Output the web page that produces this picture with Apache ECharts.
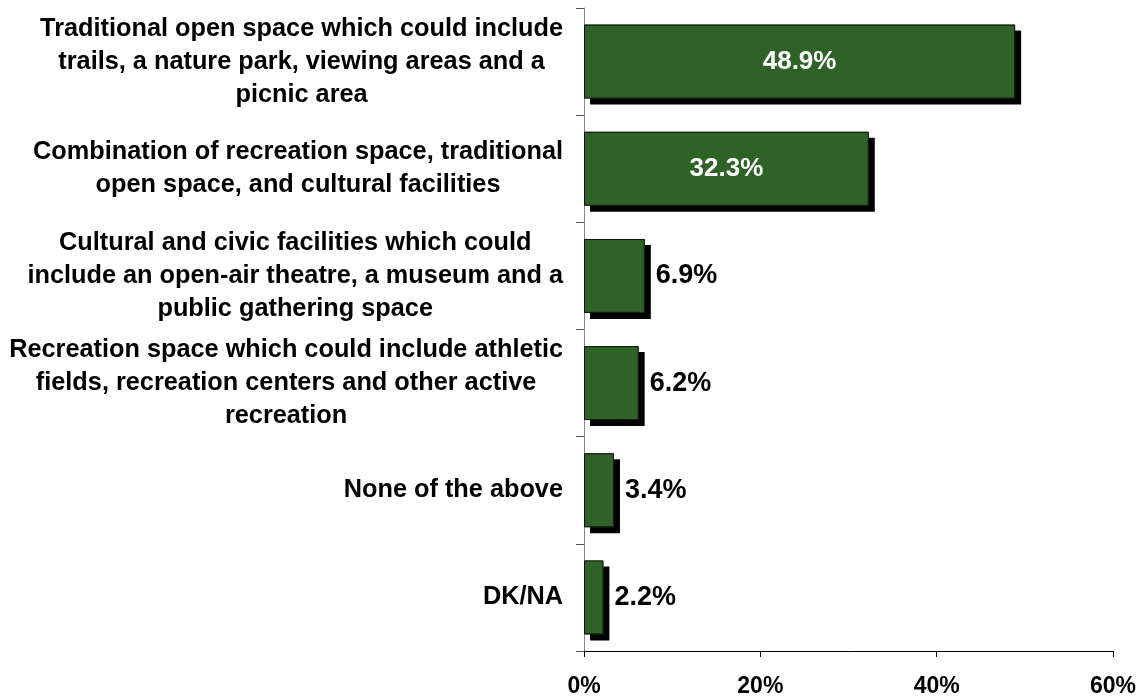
<!DOCTYPE html>
<html>
<head>
<meta charset="utf-8">
<script src="https://cdn.jsdelivr.net/npm/echarts@6/dist/echarts.min.js"></script>
<style>
html,body{margin:0;padding:0;background:#fff;}
#chart{width:1142px;height:698px;}
</style>
</head>
<body>
<div id="chart"></div>
<script>
var categories = [
  "Traditional open space which could include\ntrails, a nature park, viewing areas and a\npicnic area",
  "Combination of recreation space, traditional\nopen space, and cultural facilities",
  "Cultural and civic facilities which could\ninclude an open-air theatre, a museum and a\npublic gathering space",
  "Recreation space which could include athletic\nfields, recreation centers and other active\nrecreation",
  "None of the above",
  "DK/NA"
];
var values = [48.9, 32.3, 6.9, 6.2, 3.4, 2.2];
var xTicks = { min: 0, max: 60, interval: 20, suffix: "%" };

var FONT = '"Liberation Sans", Arial, sans-serif';
var GREEN = '#2e6226';

var seriesData = values.map(function (v) {
  var inside = v > 20;
  return {
    value: v,
    label: inside ? {
      position: 'inside', color: '#ffffff', fontSize: 26, fontWeight: 'bold', fontFamily: FONT
    } : {
      position: 'right', distance: 11, color: '#000000', fontSize: 27, fontWeight: 'bold', fontFamily: FONT
    }
  };
});

var chart = echarts.init(document.getElementById('chart'), null, { renderer: 'canvas' });
chart.setOption({
  animation: false,
  backgroundColor: '#ffffff',
  grid: { left: 584, right: 29, top: 8, bottom: 46, containLabel: false },
  xAxis: {
    type: 'value',
    min: xTicks.min, max: xTicks.max, interval: xTicks.interval,
    splitLine: { show: false },
    axisLine: { show: true, lineStyle: { color: '#000', width: 1 } },
    axisTick: { show: true, length: 6, lineStyle: { color: '#000' } },
    axisLabel: {
      formatter: function (v) { return v + xTicks.suffix; },
      fontSize: 23, fontWeight: 'bold', color: '#000', fontFamily: FONT, margin: 24
    }
  },
  yAxis: {
    type: 'category',
    inverse: true,
    data: categories,
    axisLine: { show: true, lineStyle: { color: '#888888', width: 1 } },
    axisTick: { show: true, length: 8, lineStyle: { color: '#555' } },
    axisLabel: {
      margin: 21,
      fontSize: 25.3, fontWeight: 'bold', color: '#000', fontFamily: FONT,
      formatter: function (v) {
        return v.split('\n').map(function (l) { return '{c|' + l + '}'; }).join('\n');
      },
      rich: {
        c: { align: 'center', fontSize: 25.3, fontWeight: 'bold', color: '#000', fontFamily: FONT, lineHeight: 33 }
      }
    }
  },
  series: [{
    type: 'bar',
    data: seriesData,
    barWidth: '69%',
    barGap: '-100%',
    z: 2,
    itemStyle: {
      color: GREEN,
      borderWidth: 0,
      shadowColor: '#000',
      shadowBlur: 0,
      shadowOffsetX: 6,
      shadowOffsetY: 6
    },
    label: {
      show: true,
      formatter: function (p) { return p.value.toFixed(1) + '%'; }
    }
  }, {
    type: 'bar',
    data: values,
    barWidth: '69%',
    barGap: '-100%',
    z: 3,
    silent: true,
    itemStyle: {
      color: 'rgba(0,0,0,0)',
      borderColor: '#111',
      borderWidth: 1
    },
    label: { show: false }
  }]
});
</script>
</body>
</html>
